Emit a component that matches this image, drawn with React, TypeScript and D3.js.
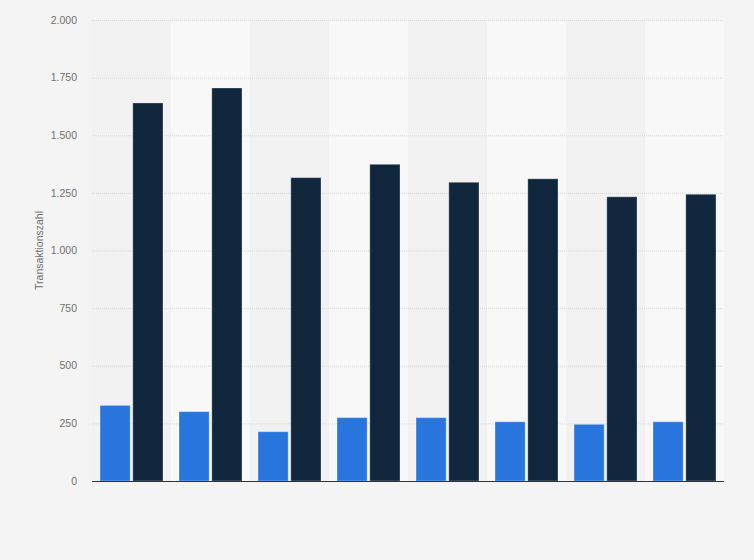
import React, { useEffect, useRef } from "react";
import * as d3 from "d3";

const categories = ["1", "2", "3", "4", "5", "6", "7", "8"];
const seriesA = [328, 301, 214, 275, 275, 257, 246, 257];
const seriesB = [1640, 1705, 1316, 1374, 1296, 1311, 1233, 1244];
const yTicks = [0, 250, 500, 750, 1000, 1250, 1500, 1750, 2000];
const yLabel = "Transaktionszahl";

const W = 754;
const H = 560;
const M = { left: 92, right: 30, top: 20, bottom: 79 };

export default function App() {
  const ref = useRef<SVGSVGElement>(null);

  useEffect(() => {
    const svg = d3.select(ref.current);
    svg.selectAll("*").remove();

    const x = d3
      .scaleBand<string>()
      .domain(categories)
      .range([M.left, W - M.right])
      .paddingInner(0)
      .paddingOuter(0);
    const y = d3.scaleLinear().domain([0, 2000]).range([H - M.bottom, M.top]);

    const inner = d3
      .scaleBand<string>()
      .domain(["a", "b"])
      .range([8, x.bandwidth() - 8])
      .paddingInner(0.08)
      .paddingOuter(0);

    svg.append("rect").attr("width", W).attr("height", H).attr("fill", "#f4f4f4");

    // bands
    svg
      .append("g")
      .selectAll("rect")
      .data(categories)
      .join("rect")
      .attr("x", (d) => x(d)!)
      .attr("y", y(2000))
      .attr("width", x.bandwidth())
      .attr("height", y(0) - y(2000))
      .attr("fill", (_, i) => (i % 2 === 0 ? "#f2f2f2" : "#f8f8f8"));

    const fmt = (v: number) => d3.format(",")(v).replace(/,/g, ".");

    // grid
    svg
      .append("g")
      .selectAll("line")
      .data(yTicks.filter((t) => t > 0))
      .join("line")
      .attr("x1", M.left)
      .attr("x2", W - M.right)
      .attr("y1", (d) => y(d) + 0.5)
      .attr("y2", (d) => y(d) + 0.5)
      .attr("stroke", "#d6d6d6")
      .attr("stroke-width", 1)
      .attr("stroke-dasharray", "1,1");

    // tick labels
    svg
      .append("g")
      .selectAll("text")
      .data(yTicks)
      .join("text")
      .attr("x", 77)
      .attr("y", (d) => y(d))
      .attr("dy", "0.35em")
      .attr("text-anchor", "end")
      .attr("font-family", "'Liberation Sans', Arial, sans-serif")
      .attr("font-size", 10.5)
      .attr("fill", "#707070")
      .text((d) => fmt(d));

    // y label
    svg
      .append("text")
      .attr("transform", `translate(43, ${(y(0) + y(2000)) / 2}) rotate(-90)`)
      .attr("text-anchor", "middle")
      .attr("font-family", "'Liberation Sans', Arial, sans-serif")
      .attr("font-size", 10.5)
      .attr("fill", "#707070")
      .text(yLabel);

    const g = svg.append("g");
    g.selectAll("rect.a")
      .data(seriesA)
      .join("rect")
      .attr("class", "a")
      .attr("x", (_, i) => x(categories[i])! + inner("a")!)
      .attr("y", (d) => y(d))
      .attr("width", inner.bandwidth())
      .attr("height", (d) => y(0) - y(d))
      .attr("fill", "#2876dd")
      .attr("stroke", "rgba(255,255,255,0.35)")
      .attr("stroke-width", 1);
    g.selectAll("rect.b")
      .data(seriesB)
      .join("rect")
      .attr("class", "b")
      .attr("x", (_, i) => x(categories[i])! + inner("b")!)
      .attr("y", (d) => y(d))
      .attr("width", inner.bandwidth())
      .attr("height", (d) => y(0) - y(d))
      .attr("fill", "#10263d")
      .attr("stroke", "rgba(255,255,255,0.3)")
      .attr("stroke-width", 1);

    // baseline
    svg
      .append("line")
      .attr("x1", M.left)
      .attr("x2", W - M.right)
      .attr("y1", y(0) + 0.5)
      .attr("y2", y(0) + 0.5)
      .attr("stroke", "#333")
      .attr("stroke-width", 1.2);
  }, []);

  return (
    <svg
      ref={ref}
      width={W}
      height={H}
      style={{ position: "absolute", left: 0, top: 0, display: "block" }}
    />
  );
}
